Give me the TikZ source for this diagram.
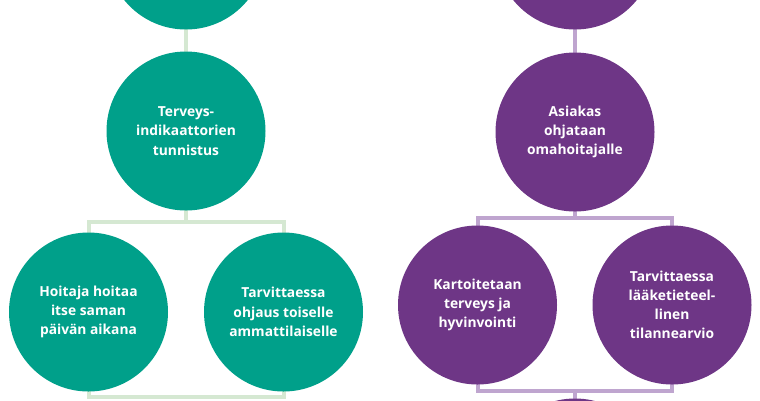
\documentclass[tikz,border=0pt]{standalone}
\usepackage{fontspec}
\setmainfont{Open Sans}
\usetikzlibrary{backgrounds}
\definecolor{teal1}{HTML}{00A08A}
\definecolor{tealline}{HTML}{D5E8D2}
\definecolor{purp1}{HTML}{6E3686}
\definecolor{purpline}{HTML}{BFA5CF}
\tikzset{
  bubble/.style={circle, minimum size=159pt, inner sep=0pt, text=white,
    font=\bfseries\fontsize{13.8}{19.2}\selectfont, align=center},
  tbub/.style={bubble, fill=teal1},
  pbub/.style={bubble, fill=purp1},
  tlink/.style={draw=tealline, line width=4pt},
  plink/.style={draw=purpline, line width=4pt},
}
\begin{document}
\begin{tikzpicture}[x=1pt,y=-1pt]
\useasboundingbox (0,0) rectangle (760,400);
\clip (0,0) rectangle (760,400);
% junction coordinates
\coordinate (lj1) at (186,222);
\coordinate (lj1a) at (88.5,222);
\coordinate (lj1b) at (283.5,222);
\coordinate (lj2) at (186,397);
\coordinate (lj2a) at (88.5,397);
\coordinate (lj2b) at (283.5,397);
\coordinate (rj1) at (575,218);
\coordinate (rj1a) at (477.5,218);
\coordinate (rj1b) at (672,218);
\coordinate (rj2) at (575,391);
\coordinate (rj2a) at (477.5,391);
\coordinate (rj2b) at (672,391);
% nodes
\node[tbub] (ltop) at (186,-50) {};
\node[tbub] (lmid) at (186,131) {Terveys-\\indikaattorien\\tunnistus};
\node[tbub] (lbl) at (88.5,312) {Hoitaja hoitaa\\itse saman\\päivän aikana};
\node[tbub] (lbr) at (283.5,312) {Tarvittaessa\\ohjaus toiselle\\ammattilaiselle};
\node[pbub] (rtop) at (575,-50) {};
\node[pbub] (rmid) at (575,132) {Asiakas\\ohjataan\\omahoitajalle};
\node[pbub] (rbl) at (477.5,305) {Kartoitetaan\\terveys ja\\hyvinvointi};
\node[pbub] (rbr) at (672,305) {Tarvittaessa\\lääketieteel-\\linen\\tilannearvio};
\node[pbub] (rnext) at (575,478) {};
% connectors behind the circles
\begin{scope}[on background layer]
  \fill[white] (0,0) rectangle (760,400);
  \draw[tlink] (ltop.center) -- (lmid.center);
  \draw[tlink] (lmid.center) -- (lj1);
  \draw[tlink] (lbl.center) -- (lj1a) -- (lj1b) -- (lbr.center);
  \draw[tlink] (lbl.center) -- (lj2a) -- (lj2b) -- (lbr.center);
  \draw[plink] (rtop.center) -- (rmid.center);
  \draw[plink] (rmid.center) -- (rj1);
  \draw[plink] (rbl.center) -- (rj1a) -- (rj1b) -- (rbr.center);
  \draw[plink] (rbl.center) -- (rj2a) -- (rj2b) -- (rbr.center);
  \draw[plink] (rj2) -- (rnext.center);
\end{scope}
\end{tikzpicture}
\end{document}
